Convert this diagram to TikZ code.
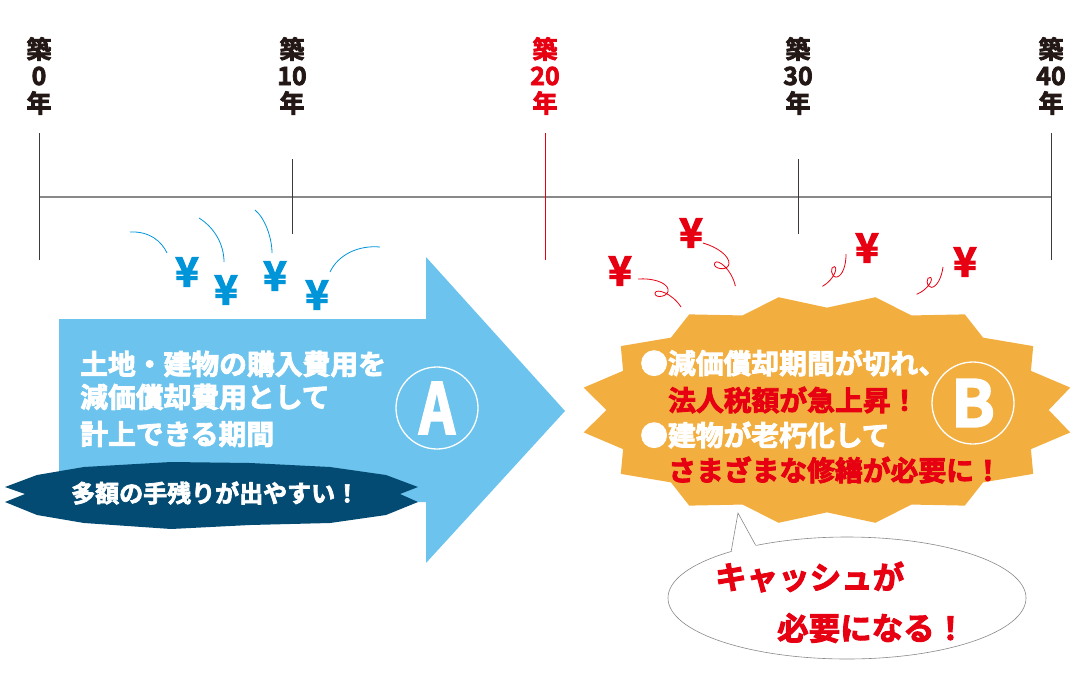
\documentclass[tikz,border=0pt]{standalone}
\usepackage{fontspec}
\setmainfont{Noto Sans CJK JP Bold}[FakeBold=3]
\usepackage{xcolor}
\definecolor{arrowblue}{HTML}{6CC3ED}
\definecolor{yenblue}{HTML}{0095D9}
\definecolor{navy}{HTML}{044B73}
\definecolor{burstorange}{HTML}{F2AE3F}
\definecolor{alert}{HTML}{E60012}
\definecolor{ink}{HTML}{231815}
\definecolor{tickgray}{HTML}{3E3A39}
\definecolor{axisgray}{HTML}{898989}
\usetikzlibrary{shapes,arrows,arrows.meta}
\usetikzlibrary{positioning}

\begin{document}
\begin{tikzpicture}[x=1pt,y=1pt,node distance=27pt]

% Define styles
\tikzstyle{year} = [text=ink, font=\fontsize{25}{25}\selectfont, inner sep=0pt]
\tikzstyle{yearred} = [year, text=alert]
\tikzstyle{ticks} = [draw=tickgray, line width=0.8pt]
\tikzstyle{axisline} = [draw=axisgray, line width=1.5pt]
\tikzstyle{yen} = [text=yenblue, font=\fontsize{40}{40}\selectfont, inner sep=0pt]
\tikzstyle{yenred} = [yen, text=alert]
\tikzstyle{fly} = [draw=yenblue, line width=0.8pt]
\tikzstyle{flyred} = [draw=alert, line width=0.8pt]
\tikzstyle{txt} = [anchor=west, inner sep=0pt, text=white, font=\fontsize{27.8}{27.8}\selectfont]
\tikzstyle{txtred} = [txt, text=alert]
\tikzstyle{ring} = [circle, draw=white, line width=1.3pt, minimum size=82pt, inner sep=0pt, text=white]
\tikzstyle{callout} = [ellipse, draw=axisgray, fill=white, line width=0.6pt,
    minimum width=358pt, minimum height=122pt, inner sep=0pt]
\tikzstyle{need} = [txtred, font=\fontsize{31.5}{31.5}\selectfont]

\useasboundingbox (0,0) rectangle (1081,-696);

    % Timeline
    \node [year] (k0a) at (39,-49) {築};
    \node [year, below of=k0a] (k0b) {0};
    \node [year, below of=k0b] (k0c) {年};
    \node [year] (k10a) at (292,-49) {築};
    \node [year, below of=k10a] (k10b) {10};
    \node [year, below of=k10b] (k10c) {年};
    \node [yearred] (k20a) at (545,-49) {築};
    \node [yearred, below of=k20a] (k20b) {20};
    \node [yearred, below of=k20b] (k20c) {年};
    \node [year] (k30a) at (798,-49) {築};
    \node [year, below of=k30a] (k30b) {30};
    \node [year, below of=k30b] (k30c) {年};
    \node [year] (k40a) at (1051,-49) {築};
    \node [year, below of=k40a] (k40b) {40};
    \node [year, below of=k40b] (k40c) {年};

    \path [axisline] (39,-197) -- (1051,-197);
    \path [ticks] (39,-133) -- (39,-260);
    \path [ticks] (292,-159) -- (292,-234);
    \path [ticks,draw=alert] (545,-133) -- (545,-260);
    \path [ticks] (798,-159) -- (798,-234);
    \path [ticks] (1051,-133) -- (1051,-260);

    % Money coming in
    \node [yen] (yen1) at (187,-272) {¥};
    \node [yen] (yen2) at (226,-290) {¥};
    \node [yen] (yen3) at (275,-276) {¥};
    \node [yen] (yen4) at (317,-295) {¥};
    \path [fly] (130,-232) .. controls (150,-231) and (162,-242) .. (167,-253);
    \path [fly] (199,-218) .. controls (215,-228) and (224,-245) .. (224,-262);
    \path [fly] (255,-210) .. controls (265,-218) and (272,-238) .. (272,-253);
    \path [fly] (330,-272) .. controls (338,-255) and (358,-245) .. (380,-247);

    % Money going out
    \node [yenred] (yen5) at (620,-271) {¥};
    \node [yenred] (yen6) at (691,-233) {¥};
    \node [yenred] (yen7) at (867,-248) {¥};
    \node [yenred] (yen8) at (965,-262) {¥};
    \path [flyred, shift={(638,-279)}] (0,0) .. controls (14,1) and (28,-3) .. (30,-10)
        .. controls (32,-18) and (16,-20) .. (17,-14) .. controls (18,-9) and (34,-14) .. (43,-28);
    \path [flyred, shift={(703,-243)}, rotate=-20, scale=1.05] (0,0) .. controls (14,1) and (28,-3) .. (30,-10)
        .. controls (32,-18) and (16,-20) .. (17,-14) .. controls (18,-9) and (34,-14) .. (43,-28);
    \path [flyred, shift={(846,-254)}, rotate=-93, scale=0.78] (0,0) .. controls (14,1) and (28,-3) .. (30,-10)
        .. controls (32,-18) and (16,-20) .. (17,-14) .. controls (18,-9) and (34,-14) .. (43,-28);
    \path [flyred, shift={(943,-267)}, rotate=-101, scale=0.74] (0,0) .. controls (14,1) and (28,-3) .. (30,-10)
        .. controls (32,-18) and (16,-20) .. (17,-14) .. controls (18,-9) and (34,-14) .. (43,-28);

    % Period A
    \fill [arrowblue] (59,-319) -- (426,-319) -- (426,-257) -- (565,-411) -- (426,-563)
        -- (426,-502) -- (59,-502) -- cycle;
    \fill [navy] (5,-487) -- (37,-475) -- (84,-467) -- (171,-462) -- (250,-463) -- (330,-467)
        -- (386,-475) -- (418,-487) -- (400,-494) -- (418,-502) -- (386,-515) -- (330,-523)
        -- (250,-525) -- (171,-529) -- (84,-523) -- (37,-515) -- (5,-502) -- (25,-494) -- cycle;
    \node [txt] (descA1) at (80,-364) {土地・建物の購入費用を};
    \node [txt] (descA2) at (80,-397) {減価償却費用として};
    \node [txt] (descA3) at (80,-434) {計上できる期間};
    \node [txt, font=\fontsize{24}{24}\selectfont] (cashA) at (71,-493) {多額の手残りが出やすい！};
    \node [ring, font=\fontsize{70}{70}\selectfont] (markA) at (437,-408) {\scalebox{0.8}[1]{A}};

    % Period B
    \fill [burstorange] (1048.7,-410) \foreach \k in {1,...,31} {
        -- ({827+248*(0.89+0.11*mod(\k,2))*cos(\k*11.25)},{-410+115*(0.89+0.11*mod(\k,2))*sin(\k*11.25)}) }
        -- cycle;
    \node [txt] (descB1) at (640,-363) {●減価償却期間が切れ、};
    \node [txtred] (descB2) at (668,-400) {法人税額が急上昇！};
    \node [txt] (descB3) at (640,-435) {●建物が老朽化して};
    \node [txtred] (descB4) at (668,-470) {さまざまな修繕が必要に！};
    \node [ring, font=\fontsize{64}{64}\selectfont] (markB) at (973,-403) {B};

    % Speech bubble
    \node [callout] (cashbubble) at (847,-598) {};
    \coordinate (tailtip) at (738,-513);
    \fill [white] (cashbubble.158) -- (tailtip) -- (cashbubble.150) -- (cashbubble.center) -- cycle;
    \path [draw=axisgray, line width=0.6pt] (cashbubble.158) -- (tailtip) -- (cashbubble.150);
    \node [need] (need1) at (715,-577) {キャッシュが};
    \node [need] (need2) at (777,-628) {必要になる！};
\end{tikzpicture}
\end{document}
